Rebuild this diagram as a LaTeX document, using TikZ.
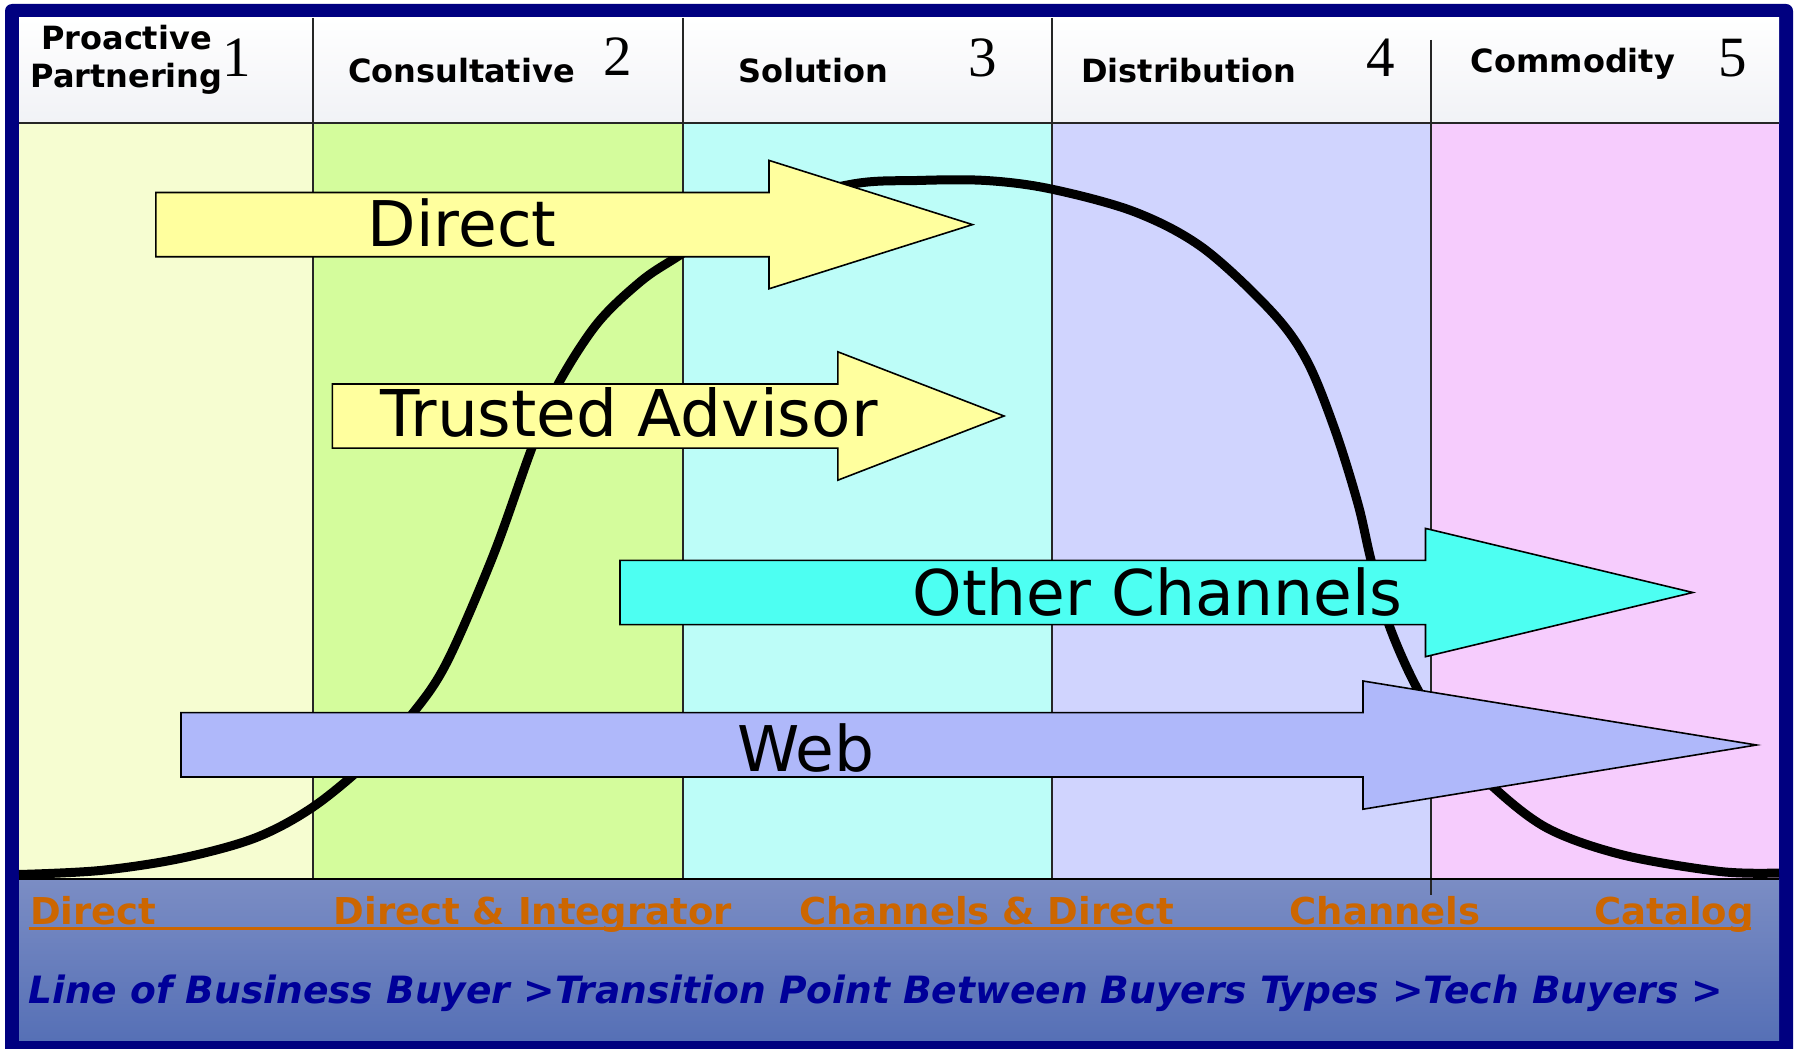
\documentclass[tikz,border=0pt]{standalone}
\usepackage{fontspec}
\setmainfont{DejaVu Sans}
\newfontfamily\numfont{Liberation Serif}
\definecolor{navyframe}{HTML}{000080}
\definecolor{hdrtop}{HTML}{FFFFFF}
\definecolor{hdrbot}{HTML}{F1F2F6}
\definecolor{colA}{HTML}{F6FDD1}
\definecolor{colB}{HTML}{D4FC9C}
\definecolor{colC}{HTML}{BDFDF8}
\definecolor{colD}{HTML}{D0D4FE}
\definecolor{colE}{HTML}{F6CCFD}
\definecolor{bandtop}{HTML}{7B8DC4}
\definecolor{bandbot}{HTML}{5670B6}
\definecolor{orangetxt}{HTML}{CC6600}
\definecolor{bluetxt}{HTML}{000099}
\definecolor{yellowarrow}{HTML}{FFFF9E}
\definecolor{cyanarrow}{HTML}{4DFFF2}
\definecolor{webarrow}{HTML}{AFB8FA}
\begin{document}
\begin{tikzpicture}[x=1pt,y=-1pt,
  hdr/.style={font=\fontsize{32}{36}\selectfont\bfseries, anchor=base, inner sep=0pt},
  num/.style={font=\numfont\fontsize{57}{60}\selectfont, anchor=base, inner sep=0pt},
  arrowlabel/.style={font=\fontsize{63}{70}\selectfont, anchor=base, inner sep=0pt},
  blockarrow/.style={draw=black, line width=1.6pt, line join=miter},
  chan/.style={font=\fontsize{37}{40}\selectfont\bfseries, text=orangetxt, anchor=base west, inner sep=0pt},
  divider/.style={draw=black!85, line width=1.3pt},
  curve/.style={draw=black, line width=9pt}
]
\useasboundingbox (0,0) rectangle (1797,1049);
% frame
\fill[navyframe, rounded corners=7pt] (5,4) rectangle (1793,1060);
% header
\shade[top color=hdrtop, bottom color=hdrbot] (19,18) rectangle (1779,123);
% columns
\fill[colA] (19,123) rectangle (313,879);
\fill[colB] (313,123) rectangle (683,879);
\fill[colC] (683,123) rectangle (1052,879);
\fill[colD] (1052,123) rectangle (1431,879);
\fill[colE] (1431,123) rectangle (1779,879);
% bottom band
\shade[top color=bandtop, bottom color=bandbot] (19,879) rectangle (1779,1040);
% lines
\draw[black!85, line width=2pt] (19,123) -- (1779,123);
\draw[divider] (313,18) -- (313,879);
\draw[divider] (683,18) -- (683,879);
\draw[divider] (1052,18) -- (1052,879);
\draw[divider] (1431,40) -- (1431,895);
\draw[black, line width=2.6pt] (19,879) -- (1779,879);

% S-curve
\draw[curve] plot[smooth, tension=0.55] coordinates {
 (19,874.5) (100,870.5) (180,858.5) (255,838) (313,807) (370,760) (413,713)
 (447,662) (493,556) (530,453) (555,390) (596,325) (640,282) (677,257)
 (750,212) (850,184.5) (917,180.5) (986,180.5) (1051,189) (1135,212)
 (1203,248) (1272,312) (1307,361) (1335,430) (1358,504) (1371,560)
 (1389,625) (1418,690) (1453,742) (1490,784) (1547,828) (1623,855)
 (1720,871.5) (1779,873)};

% block arrows
\path[blockarrow, fill=yellowarrow] (155.9,192.5) -- (769,192.5) -- (769,160.4) -- (972.5,224.6)
  -- (769,288.8) -- (769,256.7) -- (155.9,256.7) -- cycle;
\path[blockarrow, fill=yellowarrow] (332.4,384) -- (837.8,384) -- (837.8,351.8) -- (1004,416)
  -- (837.8,480.2) -- (837.8,448.1) -- (332.4,448.1) -- cycle;
\path[blockarrow, fill=cyanarrow] (620,560.4) -- (1425.5,560.4) -- (1425.5,528.4) -- (1692.8,592.5)
  -- (1425.5,656.7) -- (1425.5,624.6) -- (620,624.6) -- cycle;
\path[blockarrow, fill=webarrow] (181,712.6) -- (1363,712.6) -- (1363,681) -- (1756.5,745)
  -- (1363,809.2) -- (1363,777) -- (181,777) -- cycle;

\node[arrowlabel] (lbldirect) at (462,246.5) {Direct};
\node[arrowlabel, font=\fontsize{64.5}{70}\selectfont] (lbltrusted) at (629,436.5) {Trusted Advisor};
\node[arrowlabel] (lblother) at (1157.6,615.5) {Other Channels};
\node[arrowlabel] (lblweb) at (805.7,771) {Web};

% header texts
\node[hdr] (hproactive) at (126.5,50) {Proactive};
\node[hdr] (hpartnering) at (126.5,88) {Partnering};
\node[hdr] (hconsult) at (461.4,83) {Consultative};
\node[hdr] (hsolution) at (813,83) {Solution};
\node[hdr] (hdistrib) at (1189,83) {Distribution};
\node[hdr] (hcommod) at (1573,73) {Commodity};
\node[num] (n1) at (237,77) {1};
\node[num] (n2) at (618,75) {2};
\node[num] (n3) at (983,77) {3};
\node[num] (n4) at (1381,77) {4};
\node[num] (n5) at (1733,77) {5};

% bottom band texts
\draw[orangetxt, line width=3.3pt] (28.5,928.5) -- (1751,928.5);
\node[chan] (cdirect) at (30,924) {Direct};
\node[chan] (cdirint) at (333.5,924) {Direct \& Integrator};
\node[chan] (cchandir) at (798.8,924) {Channels \& Direct};
\node[chan] (cchan) at (1289.4,924) {Channels};
\node[chan] (ccatalog) at (1594.2,924) {Catalog};
\node[font=\fontsize{37.6}{40}\selectfont\bfseries\itshape, text=bluetxt, anchor=base west, inner sep=0pt]
  (buyers) at (28,1003.3) {Line of Business Buyer >Transition Point Between Buyers Types >Tech Buyers >};
\end{tikzpicture}
\end{document}
